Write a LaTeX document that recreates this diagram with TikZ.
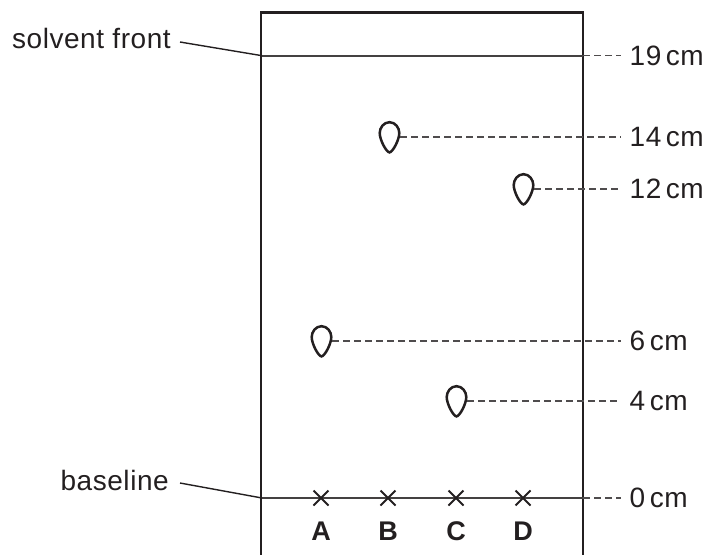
\documentclass[tikz,border=0pt]{standalone}
\usepackage{fontspec}
\setmainfont{Liberation Sans}[LetterSpace=2]
\definecolor{ink}{HTML}{231F20}
\begin{document}
\begin{tikzpicture}[x=1pt,y=-1pt,
  lbl/.style={font=\fontsize{28}{33}\selectfont, text=ink, inner sep=0pt},
  cmlbl/.style={lbl, anchor=west, inner xsep=8.5pt},
  letter/.style={lbl, font=\fontsize{27}{32}\selectfont\bfseries, anchor=base},
  plate/.style={draw=ink, line width=2.6pt},
  front/.style={draw=ink!85, line width=1.8pt},
  leader/.style={draw=ink, line width=1.4pt},
  dashline/.style={draw=ink!80, line width=1.5pt, dash pattern=on 6.5pt off 4.5pt},
  crossline/.style={draw=ink, line width=1.8pt},
  spotline/.style={draw=ink, line width=2.5pt},
  spot/.pic={\path[spotline] (0,-14.8) .. controls (6,-14.8) and (9.8,-9) .. (9.8,-4) .. controls (9.8,3) and (3,15.4) .. (0,15.4) .. controls (-3,15.4) and (-9.8,3) .. (-9.8,-4) .. controls (-9.8,-9) and (-6,-14.8) .. (0,-14.8) -- cycle;},
  xmark/.pic={\path[crossline] (-7.5,-7.5) -- (7.5,7.5) (-7.5,7.5) -- (7.5,-7.5);}
]
\useasboundingbox (0,0) rectangle (708,554);

% plate
\coordinate (pbl) at (261,556);
\coordinate (ptl) at (261,12.7);
\coordinate (ptr) at (583,12.7);
\coordinate (pbr) at (583,556);
\path[plate] (pbl) -- (ptl) -- (ptr) -- (pbr);

% solvent front
\coordinate (fl) at (262,55.7);
\coordinate (fr) at (583,55.7);
\path[front] (fl) -- (fr);
\node[cmlbl] (c19) at (621,55.7) {19\hspace{4.5pt}cm};
\path[dashline] (fr) -- (c19.west);
\node[lbl, anchor=base east] (sf) at (171,48.3) {solvent front};
\coordinate (sfl) at (180,42);
\path[leader] (sfl) -- (fl);

% baseline
\coordinate (bl) at (262,498);
\coordinate (br) at (583,498);
\path[front] (bl) -- (br);
\node[cmlbl] (c0) at (621,498) {0\hspace{4.5pt}cm};
\path[dashline] (br) -- (c0.west);
\node[lbl, anchor=base east] (bln) at (169,490.7) {baseline};
\coordinate (bll) at (180,483);
\path[leader] (bll) -- (bl);

% crosses and letters
\foreach \n/\x in {A/321,B/388,C/456,D/523}{
  \pic at (\x,498) {xmark};
  \node[letter] (lab\n) at (\x,540) {\n};
}

% spots
\pic at (389.5,137) {spot};
\coordinate (eB) at (400,137);
\node[cmlbl] (c14) at (621,137) {14\hspace{4.5pt}cm};
\path[dashline] (eB) -- (c14.west);

\pic at (523.5,189) {spot};
\coordinate (eD) at (534,189);
\node[cmlbl] (c12) at (621,189) {12\hspace{4.5pt}cm};
\path[dashline] (eD) -- (c12.west);

\pic at (321.5,341) {spot};
\coordinate (eA) at (332,341);
\node[cmlbl] (c6) at (621,341) {6\hspace{4.5pt}cm};
\path[dashline] (eA) -- (c6.west);

\pic at (456.5,401) {spot};
\coordinate (eC) at (467,401);
\node[cmlbl] (c4) at (621,401) {4\hspace{4.5pt}cm};
\path[dashline] (eC) -- (c4.west);
\end{tikzpicture}
\end{document}
